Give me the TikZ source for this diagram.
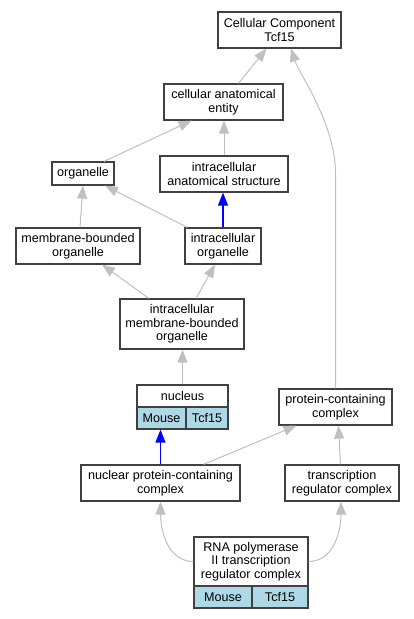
\documentclass[tikz,border=0pt]{standalone}
\usepackage{fontspec}
\setmainfont{Liberation Sans}
\usetikzlibrary{arrows.meta}
\definecolor{edgegray}{HTML}{C0C0C0}
\definecolor{boxline}{HTML}{404040}
\definecolor{lblue}{HTML}{ADD8E6}
\begin{document}
\begin{tikzpicture}[x=1pt,y=-1pt,
  box/.style={draw=boxline,line width=1.2pt,fill=white,inner sep=0pt,align=center,rectangle,
    font=\fontsize{12.6}{13.7}\selectfont},
  cell/.style={box,fill=lblue},
  isa/.style={draw=edgegray,line width=1pt,-{Triangle[length=13pt,width=10pt]}},
  partof/.style={draw=blue,line width=1.3pt,-{Triangle[length=13pt,width=10pt]}}]
\useasboundingbox (0,0) rectangle (413,619);
\fill[white] (0,0) rectangle (413,619);
% nodes
\node[box,minimum width=123pt,minimum height=36pt] (cc) at (279.5,30) {Cellular Component\\Tcf15};
\node[box,minimum width=119pt,minimum height=36pt] (cae) at (223.5,102) {cellular anatomical\\entity};
\node[box,minimum width=62pt,minimum height=23pt] (org) at (83,173.5) {organelle};
\node[box,minimum width=128pt,minimum height=36pt] (ias) at (224,174) {intracellular\\anatomical structure};
\node[box,minimum width=124pt,minimum height=36pt] (mbo) at (78,246) {membrane-bounded\\organelle};
\node[box,minimum width=76pt,minimum height=36pt] (io) at (223,246) {intracellular\\organelle};
\node[box,minimum width=124pt,minimum height=50pt] (imbo) at (182,324) {intracellular\\membrane-bounded\\organelle};
\node[box,minimum width=91pt,minimum height=22pt] (nuc) at (182.5,396) {nucleus};
\node[cell,minimum width=49pt,minimum height=22pt] (nucm) at (161.5,418) {Mouse};
\node[cell,minimum width=42pt,minimum height=22pt] (nuct) at (207,418) {Tcf15};
\node[box,minimum width=113pt,minimum height=36pt] (pcc) at (335.5,407) {protein-containing\\complex};
\node[box,minimum width=159pt,minimum height=36pt] (npcc) at (160.5,483) {nuclear protein-containing\\complex};
\node[box,minimum width=114pt,minimum height=36pt] (trc) at (342,483) {transcription\\regulator complex};
\node[box,minimum width=114pt,minimum height=49pt] (rna) at (251,561.5) {RNA polymerase\\II transcription\\regulator complex};
\node[cell,minimum width=58pt,minimum height=22pt] (rnam) at (223,597) {Mouse};
\node[cell,minimum width=56pt,minimum height=22pt] (rnat) at (280,597) {Tcf15};
% edges
\draw[isa] ([xshift=15pt]cae.north) -- ([xshift=-13pt]cc.south);
\draw[isa] (pcc.north) -- ++(0,-215) .. controls +(0,-50) and +(8,25) .. ([xshift=11.5pt]cc.south);
\draw[isa] ([xshift=21pt]org.north) -- ([xshift=-32pt]cae.south);
\draw[isa] (ias.north) -- (ias.north |- cae.south);
\draw[isa] ([xshift=2pt]mbo.north) -- (org.south);
\draw[isa] ([xshift=3pt]io.north west) -- ([xshift=22pt]org.south);
\draw[partof] (io.north) -- (io.north |- ias.south);
\draw[isa] ([xshift=-33pt]imbo.north) -- ([xshift=24pt]mbo.south);
\draw[isa] ([xshift=14pt]imbo.north) -- ([xshift=-8pt]io.south);
\draw[isa] (nuc.north) -- (nuc.north |- imbo.south);
\draw[partof] (npcc.north) -- (npcc.north |- nucm.south);
\draw[isa] ([xshift=43pt]npcc.north) -- ([xshift=-39pt]pcc.south);
\draw[isa] ([xshift=-1.5pt]trc.north) -- ([xshift=3pt]pcc.south);
\draw[isa] (rna.west) .. controls +(-25,0) and +(0,30) .. (npcc.south);
\draw[isa] (rna.east) .. controls +(25,0) and +(0,30) .. ([xshift=-1pt]trc.south);
\end{tikzpicture}
\end{document}
